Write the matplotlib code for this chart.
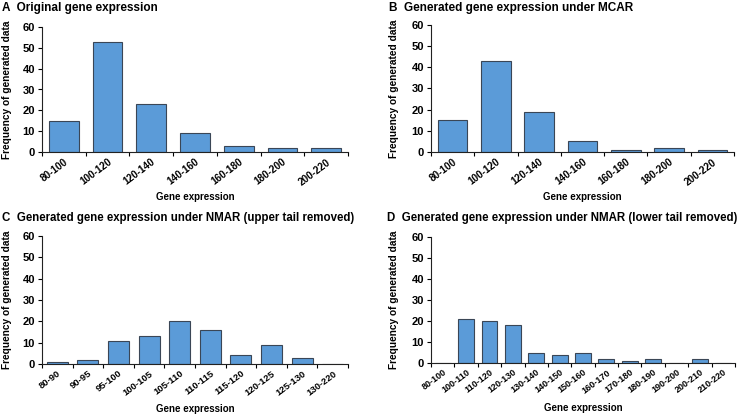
import matplotlib
matplotlib.use("Agg")
import matplotlib.pyplot as plt
import numpy as np

plt.rcParams['font.family'] = ['Liberation Sans', 'DejaVu Sans']
plt.rcParams['font.weight'] = 'bold'

cats_a = ["80-100", "100-120", "120-140", "140-160", "160-180", "180-200", "200-220"]
vals_a = [15, 53, 23, 9, 3, 2, 2]
cats_b = cats_a
vals_b = [15, 43, 19, 5, 1, 2, 1]
cats_c = ["80-90", "90-95", "95-100", "100-105", "105-110", "110-115", "115-120",
          "120-125", "125-130", "130-220"]
vals_c = [1, 2, 11, 13, 20, 16, 4, 9, 3, 0]
cats_d = ["80-100", "100-110", "110-120", "120-130", "130-140", "140-150", "150-160",
          "160-170", "170-180", "180-190", "190-200", "200-210", "210-220"]
vals_d = [0, 21, 20, 18, 5, 4, 5, 2, 1, 2, 0, 2, 0]

titles = ["A  Original gene expression",
          "B  Generated gene expression under MCAR",
          "C  Generated gene expression under NMAR (upper tail removed)",
          "D  Generated gene expression under NMAR (lower tail removed)"]

W, H = 743, 415
fig = plt.figure(figsize=(W/100, H/100), dpi=100)

# pixel boxes: left, right, top, bottom
boxes = [(42, 348, 27, 152), (431, 734, 25, 152), (42, 348, 236, 364), (431, 735, 237, 363)]
title_pos = [(2, 8), (389, 8), (2, 218), (387, 218)]
ylab_x = [7, 394, 7, 394]
xlab_y = [197, 197, 409, 408]
tick_fs = [7.2, 7.2, 6.8, 6.5]
data = [(cats_a, vals_a), (cats_b, vals_b), (cats_c, vals_c), (cats_d, vals_d)]

bar_color = "#5B9BD8"
edge_color = "#3A4656"

for i, ((cats, vals), (l, r, t, b)) in enumerate(zip(data, boxes)):
    ax = fig.add_axes([l/W, 1-b/H, (r-l)/W, (b-t)/H])
    x = np.arange(len(cats))
    ax.bar(x, vals, width=0.68, color=bar_color, edgecolor=edge_color, linewidth=0.8)
    ax.set_xlim(-0.5, len(cats)-0.5)
    ax.set_ylim(0, 60)
    ax.set_yticks(range(0, 61, 10))
    ax.tick_params(axis='y', labelsize=8, length=3, width=0.8, pad=2, direction='out')
    ax.set_xticks(x)
    ax.set_xticklabels(cats, rotation=37, ha='right', rotation_mode='anchor', fontsize=tick_fs[i])
    ax.tick_params(axis='x', length=0, pad=3.5)
    ax.set_xticks(np.arange(len(cats)+1)-0.5, minor=True)
    ax.tick_params(axis='x', which='minor', length=3, width=0.8, direction='out')
    for s in ['top', 'right']:
        ax.spines[s].set_visible(False)
    for s in ['left', 'bottom']:
        ax.spines[s].set_linewidth(0.8)
        ax.spines[s].set_color('#222222')
    for lab in ax.get_yticklabels() + ax.get_xticklabels():
        lab.set_fontweight('bold')
    tx, ty = title_pos[i]
    fig.text(tx/W, 1-ty/H, titles[i], fontsize=8.5 if i < 2 else 8.3, fontweight='bold',
             ha='left', va='center')
    fig.text(ylab_x[i]/W, 1-((t+b)/2)/H, "Frequency of generated data", rotation=90,
             fontsize=7.3, fontweight='bold', ha='center', va='center')
    fig.text(((l+r)/2)/W, 1-xlab_y[i]/H, "Gene expression", fontsize=7, fontweight='bold',
             ha='center', va='center')

fig.savefig("out.png", dpi=100)
